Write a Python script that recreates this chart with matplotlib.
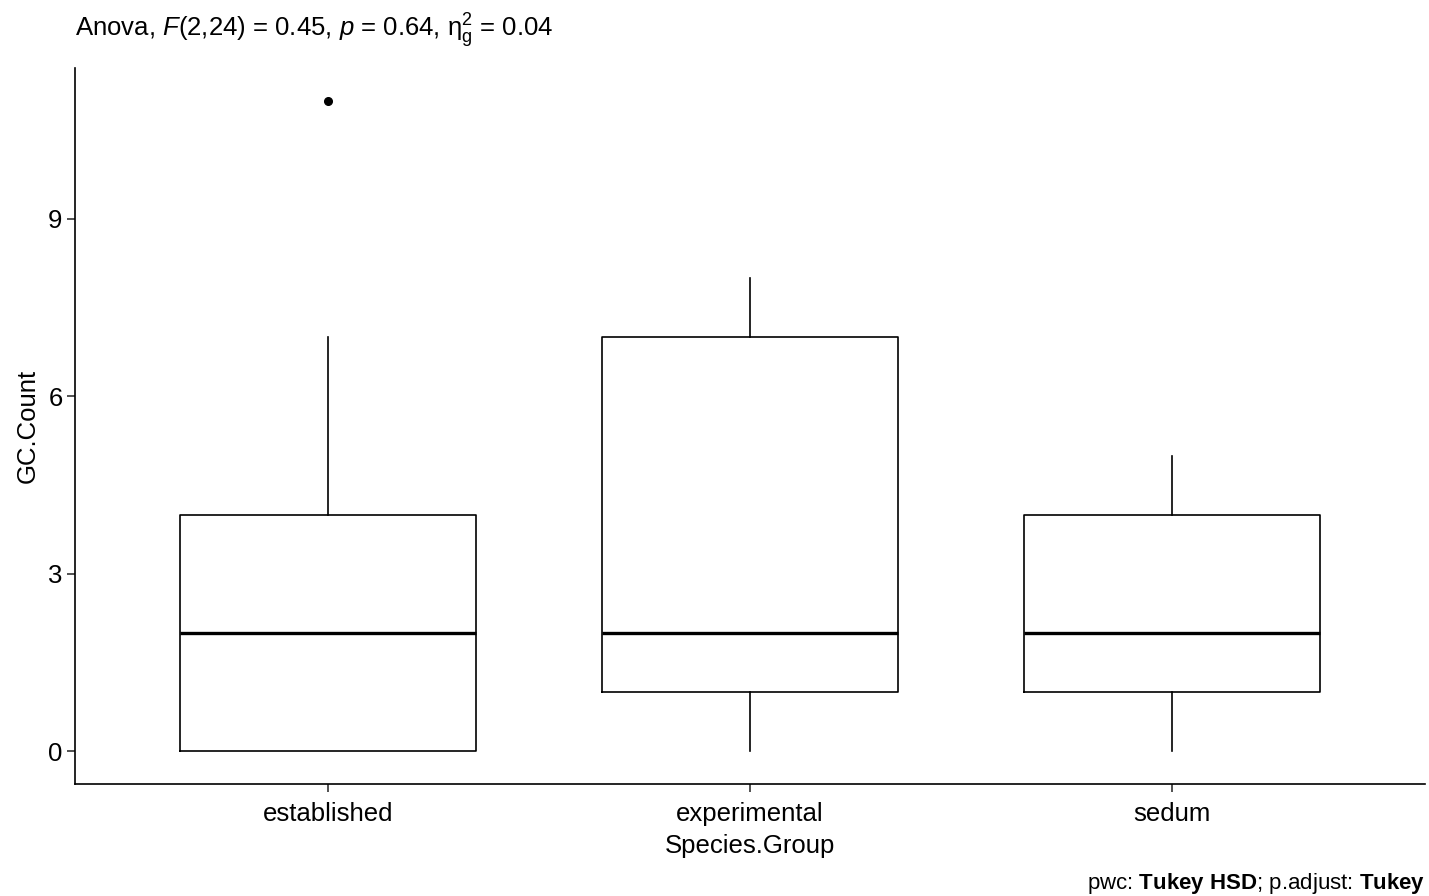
import matplotlib
matplotlib.use("Agg")
import matplotlib.pyplot as plt

plt.rcParams['font.family'] = ['Liberation Sans', 'DejaVu Sans']
plt.rcParams['mathtext.fontset'] = 'custom'
plt.rcParams['mathtext.rm'] = 'Liberation Sans'
plt.rcParams['mathtext.it'] = 'Liberation Sans:italic'
plt.rcParams['mathtext.bf'] = 'Liberation Sans:bold'

categories = ["established", "experimental", "sedum"]
whisker_low = [0, 0, 0]
q1 = [0, 1, 1]
median = [2, 2, 2]
q3 = [4, 7, 4]
whisker_high = [7, 8, 5]
outliers = [[11], [], []]
yticks = [0, 3, 6, 9]

W, H = 1429, 896
fig = plt.figure(figsize=(W / 100, H / 100), dpi=100)
ax = fig.add_axes([75 / W, (H - 784) / H, 1350 / W, 716 / H])

stats = []
for i, c in enumerate(categories):
    stats.append(dict(label=c, whislo=whisker_low[i], q1=q1[i], med=median[i],
                      q3=q3[i], whishi=whisker_high[i], fliers=outliers[i]))

ax.bxp(stats, positions=[1, 2, 3], widths=0.7, showcaps=False,
       boxprops=dict(color='black', linewidth=1.2),
       whiskerprops=dict(color='black', linewidth=1.2),
       medianprops=dict(color='black', linewidth=2.4),
       flierprops=dict(marker='o', markerfacecolor='black', markeredgecolor='black',
                       markersize=5.5))

ax.set_xlim(0.4, 3.6)
ax.set_ylim(-0.55, 11.55)
ax.set_yticks(yticks)
ax.set_yticklabels([str(t) for t in yticks])
for s in ['top', 'right']:
    ax.spines[s].set_visible(False)
for s in ['left', 'bottom']:
    ax.spines[s].set_linewidth(1.2)
ax.tick_params(axis='both', length=6, width=1.2, color='#333333', labelsize=18.5,
               labelcolor='black', pad=3)
ax.tick_params(axis='x', pad=7)
ax.set_xlabel("Species.Group", fontsize=18.5, labelpad=6)
ax.set_ylabel("GC.Count", fontsize=18.5, labelpad=6)

fig.text(75 / W, 1 - 31 / H,
         r"Anova, $\mathit{F}$(2,24) = 0.45, $\mathit{p}$ = 0.64, $\mathrm{\eta}^{2}_{\mathrm{g}}$ = 0.04",
         fontsize=18.5, ha='left', va='center')
fig.text(1425 / W, 1 - 883 / H,
         r"pwc: $\mathbf{Tukey\ HSD}$; p.adjust: $\mathbf{Tukey}$",
         fontsize=16, ha='right', va='center')

fig.savefig("out.png", dpi=100)
